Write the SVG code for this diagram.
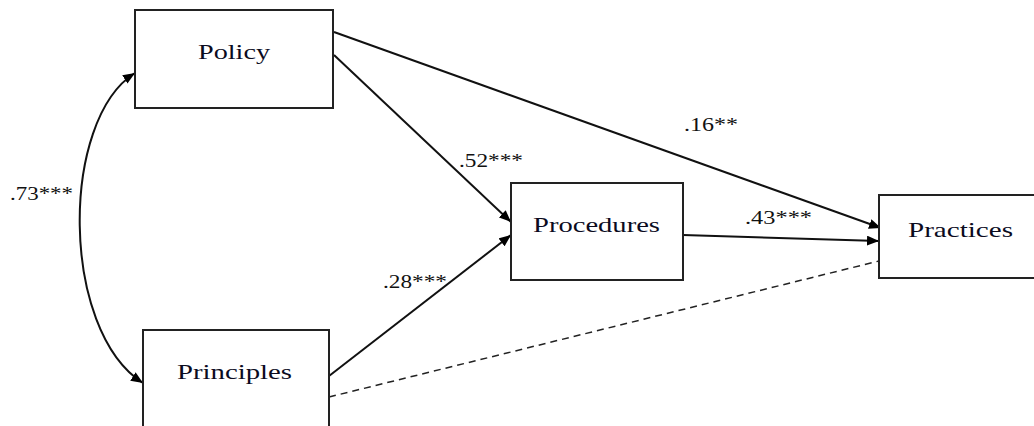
<svg xmlns="http://www.w3.org/2000/svg" width="1034" height="426" viewBox="0 0 1034 426">
<style>
.box{fill:#fff;stroke:#222;stroke-width:2}
.lbl{font-family:'Liberation Serif',Times,serif;font-size:22px;fill:#0b0b1e}
.num{font-family:'Liberation Serif',Times,serif;font-size:18px;fill:#111}
.e{fill:none;stroke:#111;stroke-width:2}
.d{fill:none;stroke:#222;stroke-width:1.5;stroke-dasharray:7,5}
</style>
<defs>
<marker id="ah" viewBox="0 0 12 10" refX="12" refY="5" markerWidth="12" markerHeight="10" markerUnits="userSpaceOnUse" orient="auto-start-reverse">
<path d="M0,0 L12,5 L0,10 Z" fill="#000"/>
</marker>
</defs>
<g id="connectors">
<path class="e" d="M135,73 C60,120 60,330 143,383" marker-start="url(#ah)" marker-end="url(#ah)"/>
<line class="e" x1="334" y1="32" x2="881" y2="228" marker-end="url(#ah)"/>
<line class="e" x1="334" y1="55" x2="511" y2="222" marker-end="url(#ah)"/>
<line class="e" x1="329" y1="376" x2="511" y2="235" marker-end="url(#ah)"/>
<line class="e" x1="683" y1="235" x2="879" y2="241" marker-end="url(#ah)"/>
<line class="d" x1="329" y1="397" x2="879" y2="261"/>
<text class="num" x="10" y="200" textLength="63" lengthAdjust="spacingAndGlyphs">.73***</text>
<text class="num" x="459" y="167" textLength="64" lengthAdjust="spacingAndGlyphs">.52***</text>
<text class="num" x="684" y="131" textLength="54" lengthAdjust="spacingAndGlyphs">.16**</text>
<text class="num" x="745" y="224" textLength="67" lengthAdjust="spacingAndGlyphs">.43***</text>
<text class="num" x="383" y="288" textLength="64" lengthAdjust="spacingAndGlyphs">.28***</text>
</g>
<g id="policy">
<rect class="box" x="135" y="10" width="198" height="98"/>
<text class="lbl" x="198" y="59" textLength="72" lengthAdjust="spacingAndGlyphs">Policy</text>
</g>
<g id="principles">
<rect class="box" x="143" y="330" width="186" height="110"/>
<text class="lbl" x="177" y="379" textLength="115" lengthAdjust="spacingAndGlyphs">Principles</text>
</g>
<g id="procedures">
<rect class="box" x="511" y="183" width="172" height="97"/>
<text class="lbl" x="533" y="232" textLength="127" lengthAdjust="spacingAndGlyphs">Procedures</text>
</g>
<g id="practices">
<rect class="box" x="879" y="195" width="160" height="83"/>
<text class="lbl" x="908" y="237" textLength="105" lengthAdjust="spacingAndGlyphs">Practices</text>
</g>
</svg>
